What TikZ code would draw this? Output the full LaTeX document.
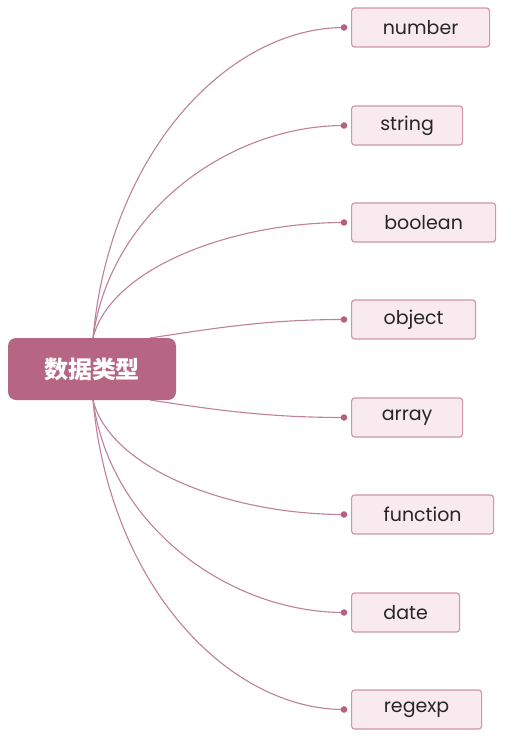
\documentclass[tikz,border=0pt]{standalone}
\usepackage{fontspec}
\setmainfont{Poppins}
\newfontfamily\cjk{Noto Sans CJK SC}
\usetikzlibrary{positioning}
\definecolor{hubfill}{RGB}{182,102,130}
\definecolor{leaffill}{RGB}{249,234,240}
\definecolor{leafline}{RGB}{206,150,172}
\definecolor{linkcol}{RGB}{190,128,154}
\definecolor{dotcol}{RGB}{184,96,128}
\tikzset{
  hub/.style={fill=hubfill,rounded corners=8pt,minimum width=168pt,minimum height=62pt,
    font=\cjk\fontsize{24}{24}\selectfont\bfseries,text=white},
  leaf/.style={draw=leafline,fill=leaffill,line width=1.2pt,rounded corners=3pt,anchor=west,
    minimum height=39pt,inner xsep=4pt,font=\fontsize{19}{19}\selectfont,text=black!85},
  link/.style={draw=linkcol,line width=1.1pt},
  knob/.style={fill=dotcol}
}

\begin{document}
\begin{tikzpicture}[x=1pt,y=-1pt]
        \useasboundingbox (0,0) rectangle (530,750);
        % leaves
        \node[leaf,minimum width=138pt] (number) at (351,27.5) {number};
        \node[leaf,minimum width=111pt] (string) at (351,125.5) {string};
        \node[leaf,minimum width=144pt] (boolean) at (351,222.5) {boolean};
        \node[leaf,minimum width=124pt] (object) at (351,319.5) {object};
        \node[leaf,minimum width=111pt] (array) at (351,417.5) {array};
        \node[leaf,minimum width=142pt] (function) at (351,514.5) {function};
        \node[leaf,minimum width=108pt] (date) at (351,612.5) {date};
        \node[leaf,minimum width=130pt] (regexp) at (351,709.5) {regexp};
        % dots in front of each leaf
        \foreach \n in {number,string,boolean,object,array,function,date,regexp}
          \coordinate (d\n) at ([xshift=-7pt]\n.west);
        % links, top to bottom
        \coordinate (up) at (93,338);
        \coordinate (upr) at (150,338);
        \coordinate (dn) at (93,400);
        \coordinate (dnr) at (150,400);
        \draw[link] (up) .. controls +(17,-188) and +(-114,0) .. (dnumber);
        \draw[link] (up) .. controls +(17,-127) and +(-114,0) .. (dstring);
        \draw[link] (up) .. controls +(17,-69) and +(-114,0) .. (dboolean);
        \draw[link] (upr) .. controls +(60,-9) and +(-80,0) .. (dobject);
        \draw[link] (dnr) .. controls +(60,9) and +(-80,0) .. (darray);
        \draw[link] (dn) .. controls +(17,69) and +(-114,0) .. (dfunction);
        \draw[link] (dn) .. controls +(17,127) and +(-114,0) .. (ddate);
        \draw[link] (dn) .. controls +(17,188) and +(-114,0) .. (dregexp);
        \foreach \n in {number,string,boolean,object,array,function,date,regexp}
          \fill[knob] (d\n) circle (3.3pt);
        % centre
        \node[hub] (types) at (92,369) {数据类型};
      \end{tikzpicture}
\end{document}
